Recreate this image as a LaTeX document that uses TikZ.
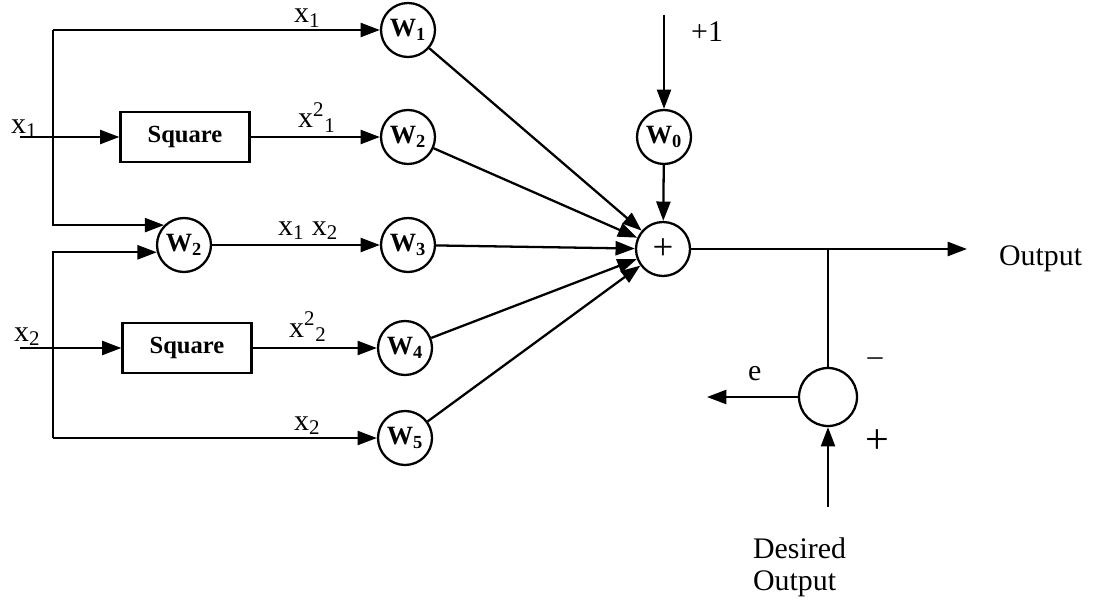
\documentclass[tikz,border=0pt]{standalone}
\usepackage{fontspec}
\setmainfont{Liberation Serif}
\usetikzlibrary{arrows.meta}

\tikzset{
    weight/.style={draw, circle, line width=1.3pt, minimum size=1.08cm, inner sep=0pt,
        font=\fontsize{15}{16}\selectfont\bfseries},
    sqbox/.style={draw, rectangle, line width=1.3pt, minimum width=2.58cm, minimum height=1cm,
        font=\fontsize{14}{15}\selectfont\bfseries},
    lbl/.style={anchor=base west, inner sep=0pt, font=\fontsize{17}{20}\selectfont},
    sig/.style={line width=1.3pt, -{Triangle[length=11pt,width=8pt]}},
}

\begin{document}
\begin{tikzpicture}[x=0.02cm, y=-0.02cm, line width=1.3pt]
        \useasboundingbox (0,0) rectangle (1097,601);

        % weights and the two squaring blocks
        \node[weight] (w1) at (408,30) {W\textsubscript{1}};
        \node[weight] (w2) at (408,137) {W\textsubscript{2}};
        \node[weight] (w3) at (408,245) {W\textsubscript{3}};
        \node[weight] (w4) at (405,348) {W\textsubscript{4}};
        \node[weight] (w5) at (405,438) {W\textsubscript{5}};
        \node[weight] (prod) at (184,245) {W\textsubscript{2}};
        \node[weight] (w0) at (664,137) {W\textsubscript{0}};
        \node[weight, font=\fontsize{21}{21}\selectfont] (sum) at (663,249) {+};
        \node[weight, minimum size=1.16cm] (err) at (828,397) {};
        \node[sqbox] (sq1) at (185,137) {Square};
        \node[sqbox] (sq2) at (187,348) {Square};

        % free ends of the signal lines
        \coordinate (in1) at (20,137);
        \coordinate (in2) at (20,348);
        \coordinate (top1) at (53,30);
        \coordinate (bot2) at (53,438);
        \coordinate (bias) at (664,15);
        \coordinate (out) at (967,249);
        \coordinate (tap) at (828,249);
        \coordinate (eout) at (707,397);
        \coordinate (desired) at (828,507);

        % input x1
        \draw[sig] (in1) -- (sq1);
        \draw[sig] (sq1) -- (w2);
        \draw[sig] (top1) -- (w1);
        \draw[sig] (top1) |- (prod.135);

        % input x2
        \draw[sig] (in2) -- (sq2);
        \draw[sig] (sq2) -- (w4);
        \draw[sig] (bot2) -- (w5);
        \draw[sig] (bot2) |- (prod.195);
        \draw[sig] (prod) -- (w3);

        % summing junction
        \foreach \w in {w1,w2,w3,w4,w5}
            \draw[sig] (\w) -- (sum);
        \draw[sig] (bias) -- (w0);
        \draw[sig] (w0) -- (sum);
        \draw[sig] (sum) -- (out);

        % error
        \draw (tap) -- (err);
        \draw[sig] (err) -- (eout);
        \draw[sig] (desired) -- (err);

        % labels
        \node[lbl] (lx1) at (10,133) {x\textsubscript{1}};
        \node[lbl] (lx2) at (13,341) {x\textsubscript{2}};
        \node[lbl] (lx1top) at (293,23) {x\textsubscript{1}};
        \node[lbl] (lx1sq) at (297,128) {x\textsuperscript{2}\textsubscript{1}};
        \node[lbl] (lx1x2) at (277,235) {x\textsubscript{1} x\textsubscript{2}};
        \node[lbl] (lx2sq) at (288,337) {x\textsuperscript{2}\textsubscript{2}};
        \node[lbl] (lx2bot) at (293,430) {x\textsubscript{2}};
        \node[lbl] (lbias) at (690,42) {+1};
        \node[lbl] (lout) at (998,265) {Output};
        \node[lbl] (le) at (747,380) {e};
        \node[font=\fontsize{17}{20}\selectfont] (lminus) at (875,362) {–};
        \node[font=\fontsize{24}{24}\selectfont] (lplus) at (877,442) {+};
        \node[anchor=north west, inner sep=0pt, align=left,
              font=\fontsize{17}{18}\selectfont] (ldes) at (752,537) {Desired\\Output};
    \end{tikzpicture}
\end{document}
